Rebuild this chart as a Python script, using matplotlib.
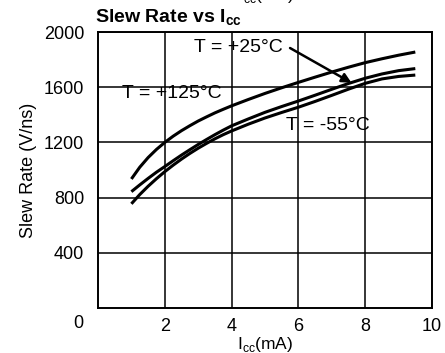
import matplotlib
matplotlib.use("Agg")
import matplotlib.pyplot as plt

plt.rcParams['font.family'] = ['Liberation Sans', 'DejaVu Sans']

# Supply current (mA)
icc = [1.0, 1.25, 1.5, 1.75, 2.0, 2.25, 2.5, 2.75, 3.0, 3.25, 3.5, 3.75, 4.0,
       4.5, 5.0, 5.5, 6.0, 6.5, 7.0, 7.5, 8.0, 8.5, 9.0, 9.5]

# Slew rate (V/ns) per temperature
slew_125 = [935, 1020, 1090, 1149, 1200, 1245, 1285, 1321, 1355, 1385, 1414,
            1440, 1465, 1511, 1555, 1596, 1635, 1673, 1710, 1745, 1778, 1806,
            1832, 1855]
slew_25 = [843, 892, 939, 984, 1025, 1067, 1108, 1147, 1185, 1221, 1256,
           1289, 1320, 1370, 1418, 1460, 1500, 1542, 1585, 1627, 1665, 1696,
           1720, 1735]
slew_m55 = [755, 822, 882, 937, 988, 1035, 1079, 1120, 1158, 1193, 1226,
            1256, 1283, 1332, 1377, 1417, 1455, 1497, 1541, 1586, 1628, 1660,
            1678, 1688]

x_ticks = [2, 4, 6, 8, 10]
y_ticks = [400, 800, 1200, 1600, 2000]

fig = plt.figure(figsize=(4.45, 3.53), dpi=100)
ax = fig.add_axes([0.2202, 0.1275, 0.7506, 0.7818])

for ys in (slew_125, slew_25, slew_m55):
    ax.plot(icc, ys, color='black', lw=2.2, solid_capstyle='butt',
            solid_joinstyle='round', zorder=3)

ax.set_xlim(0, 10)
ax.set_ylim(0, 2000)
ax.set_xticks(x_ticks)
ax.set_yticks(y_ticks)
ax.tick_params(length=0, labelsize=13, pad=10)
ax.tick_params(axis='x', pad=7)
ax.grid(True, color='black', lw=1.1)
for s in ax.spines.values():
    s.set_linewidth(1.4)

# shared origin label
ax.text(-0.6, -110, '0', ha='center', va='center', fontsize=13, clip_on=False)

ax.set_ylabel('Slew Rate (V/ns)', fontsize=13, labelpad=5)
ax.set_xlabel('I$_{\\mathregular{cc}}$(mA)', fontsize=12.5, labelpad=0)

fig.text(0.213, 0.935, 'Slew Rate vs I$_{\\mathregular{cc}}$', fontsize=14,
         fontweight='bold', ha='left', va='baseline')

# label remnant cut by the top edge
fig.text(0.598, 1.014, 'I$_{\\mathregular{cc}}$(mA)', fontsize=12.5,
         ha='center', va='center')

ax.text(4.19, 1886, 'T = +25°C', fontsize=14, ha='center', va='center')
ax.text(2.2, 1555, 'T = +125°C', fontsize=14, ha='center', va='center')
ax.text(6.89, 1319, 'T = -55°C', fontsize=14, ha='center', va='center')

ax.annotate('', xy=(7.59, 1632), xytext=(5.75, 1884),
            arrowprops=dict(arrowstyle='-|>', color='black', lw=1.8,
                            mutation_scale=14, shrinkA=0, shrinkB=0))

fig.savefig('out.png', dpi=100)
